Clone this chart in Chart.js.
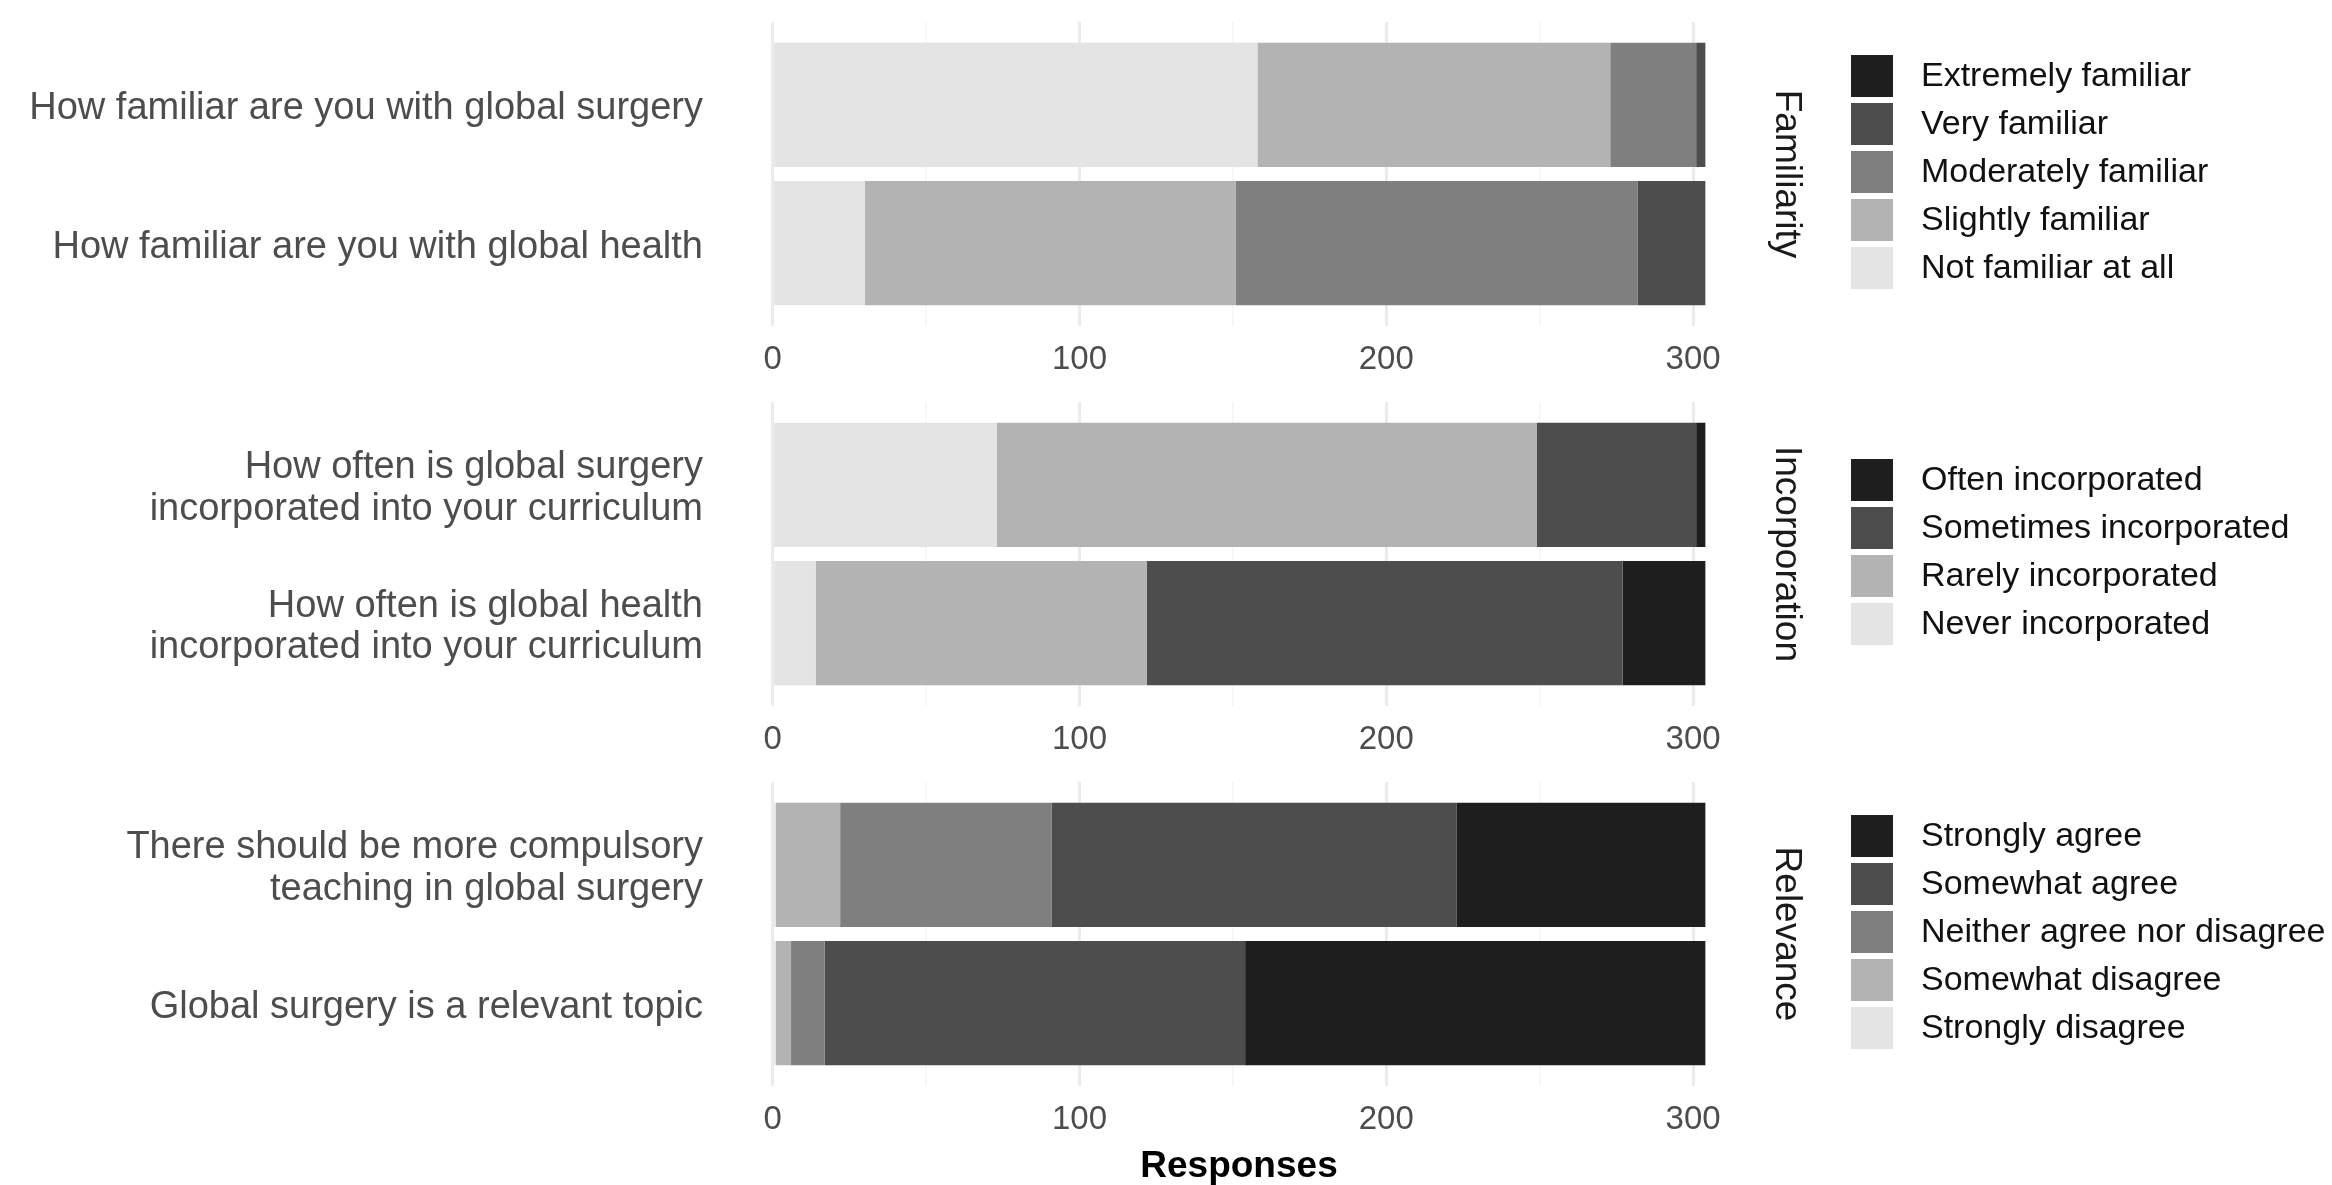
<!DOCTYPE html>
<html lang="en">
<head>
  <meta charset="UTF-8">
  <title>Global surgery survey</title>
  <script src="https://cdn.jsdelivr.net/npm/chart.js"></script>
  <style>
    html, body { margin: 0; padding: 0; background: #fff; overflow: hidden; }
    .panel { position: absolute; left: 0; width: 2332px; }
  </style>
</head>
<body>

<div class="panel" style="top:22px;height:364px"><canvas id="familiarityChart"></canvas></div>
<div class="panel" style="top:402px;height:364px"><canvas id="incorporationChart"></canvas></div>
<div class="panel" style="top:782px;height:403px"><canvas id="relevanceChart"></canvas></div>

<script>
  // x axis: gridlines every 50, labels every 100
  const gridSteps = [0, 50, 100, 150, 200, 250, 300];
  const xTickLabels = [0, 100, 200, 300];

  // Familiarity
  const familiarityQuestions = [
    ['How familiar are you with global surgery'],
    ['How familiar are you with global health']
  ];
  const familiarityLevels = ['Not familiar at all', 'Slightly familiar', 'Moderately familiar', 'Very familiar', 'Extremely familiar'];
  const notFamiliar        = [158, 30];
  const slightlyFamiliar   = [115, 121];
  const moderatelyFamiliar = [28, 131];
  const veryFamiliar       = [3, 22];
  const extremelyFamiliar  = [0, 0];

  // Incorporation
  const incorporationQuestions = [
    ['How often is global surgery', 'incorporated into your curriculum'],
    ['How often is global health', 'incorporated into your curriculum']
  ];
  const incorporationLevels = ['Never incorporated', 'Rarely incorporated', 'Sometimes incorporated', 'Often incorporated'];
  const neverIncorporated     = [73, 14];
  const rarelyIncorporated    = [176, 108];
  const sometimesIncorporated = [52, 155];
  const oftenIncorporated     = [3, 27];

  // Relevance
  const relevanceQuestions = [
    ['There should be more compulsory', 'teaching in global surgery'],
    ['Global surgery is a relevant topic']
  ];
  const relevanceLevels = ['Strongly disagree', 'Somewhat disagree', 'Neither agree nor disagree', 'Somewhat agree', 'Strongly agree'];
  const stronglyDisagree = [1, 1];
  const somewhatDisagree = [21, 5];
  const neitherAgree     = [69, 11];
  const somewhatAgree    = [132, 137];
  const stronglyAgree    = [81, 150];

  const greys5 = ['#e4e4e4', '#b3b3b3', '#7f7f7f', '#4d4d4d', '#1e1e1e'];
  const greys4 = ['#e4e4e4', '#b3b3b3', '#4d4d4d', '#1e1e1e'];

  const FONT = '"Liberation Sans", Arial, Helvetica, sans-serif';
  Chart.defaults.font.family = FONT;

  // strip label + legend drawn to the right of the panel
  const sideLabels = {
    id: 'sideLabels',
    afterDraw(chart, args, opts) {
      const { ctx, chartArea } = chart;
      const mid = (chartArea.top + chartArea.bottom) / 2;
      ctx.save();
      ctx.fillStyle = '#1a1a1a';
      ctx.font = '37px ' + FONT;
      ctx.textAlign = 'center';
      ctx.textBaseline = 'middle';
      ctx.translate(1786, mid);
      ctx.rotate(Math.PI / 2);
      ctx.fillText(opts.strip, 0, 0);
      ctx.restore();

      const sets = chart.data.datasets.slice().reverse();
      const key = 42, pitch = 48;
      let y = mid - (sets.length * pitch - (pitch - key)) / 2 - 2;
      ctx.save();
      ctx.font = '34px ' + FONT;
      ctx.textBaseline = 'middle';
      ctx.textAlign = 'left';
      sets.forEach(ds => {
        ctx.fillStyle = ds.backgroundColor;
        ctx.fillRect(1851, y, key, key);
        ctx.fillStyle = '#111';
        ctx.fillText(ds.label, 1921, y + key / 2 + 1);
        y += pitch;
      });
      ctx.restore();
    }
  };

  function noEdgePadding(s) {
    s.paddingTop = 0; s.paddingBottom = 0; s.paddingLeft = 0; s.paddingRight = 0;
  }

  function makePanel(id, questions, levels, series, colors, strip, axisHeight, showTitle) {
    new Chart(document.getElementById(id), {
      type: 'bar',
      data: {
        datasets: series.map((vals, k) => ({
          label: levels[k],
          data: vals.map((v, i) => ({ x: v, y: i + 1 })),
          backgroundColor: colors[k],
          borderWidth: 0,
          categoryPercentage: 1,
          barPercentage: 0.9
        }))
      },
      options: {
        indexAxis: 'y',
        responsive: true,
        maintainAspectRatio: false,
        animation: false,
        devicePixelRatio: 1,
        layout: { padding: { left: 0, right: 580, top: 0, bottom: 0 } },
        plugins: {
          legend: { display: false },
          tooltip: { enabled: false },
          sideLabels: { strip: strip }
        },
        scales: {
          x: {
            type: 'linear',
            stacked: true,
            offset: false,
            min: -15.2,
            max: 319.2,
            afterBuildTicks: s => { s.ticks = gridSteps.map(v => ({ value: v })); },
            afterFit: s => { s.height = axisHeight; noEdgePadding(s); },
            grid: {
              drawTicks: false,
              offset: false,
              color: c => (c.tick && c.tick.value % 100 === 0) ? '#ebebeb' : '#f5f5f5',
              lineWidth: c => (c.tick && c.tick.value % 100 === 0) ? 3 : 1.5
            },
            border: { display: false },
            ticks: {
              padding: 14,
              color: '#4d4d4d',
              autoSkip: false,
              maxRotation: 0,
              font: { size: 33 },
              callback: v => xTickLabels.includes(v) ? String(v) : ''
            },
            title: {
              display: showTitle,
              text: 'Responses',
              color: '#000',
              padding: 0,
              font: { size: 37, weight: 'bold', lineHeight: 1 }
            }
          },
          y: {
            type: 'linear',
            stacked: true,
            offset: false,
            reverse: true,
            min: 0.4,
            max: 2.6,
            afterBuildTicks: s => { s.ticks = [{ value: 1 }, { value: 2 }]; },
            afterFit: s => { s.width = 726; noEdgePadding(s); },
            grid: { display: false, drawTicks: false, offset: false },
            border: { display: false },
            ticks: {
              padding: 23,
              labelOffset: 4,
              color: '#4d4d4d',
              font: { size: 38, lineHeight: 1.1 },
              callback: v => questions[v - 1]
            }
          }
        }
      },
      plugins: [sideLabels]
    });
  }

  makePanel('familiarityChart', familiarityQuestions, familiarityLevels,
    [notFamiliar, slightlyFamiliar, moderatelyFamiliar, veryFamiliar, extremelyFamiliar],
    greys5, 'Familiarity', 60, false);

  makePanel('incorporationChart', incorporationQuestions, incorporationLevels,
    [neverIncorporated, rarelyIncorporated, sometimesIncorporated, oftenIncorporated],
    greys4, 'Incorporation', 60, false);

  makePanel('relevanceChart', relevanceQuestions, relevanceLevels,
    [stronglyDisagree, somewhatDisagree, neitherAgree, somewhatAgree, stronglyAgree],
    greys5, 'Relevance', 99, true);
</script>
</body>
</html>
